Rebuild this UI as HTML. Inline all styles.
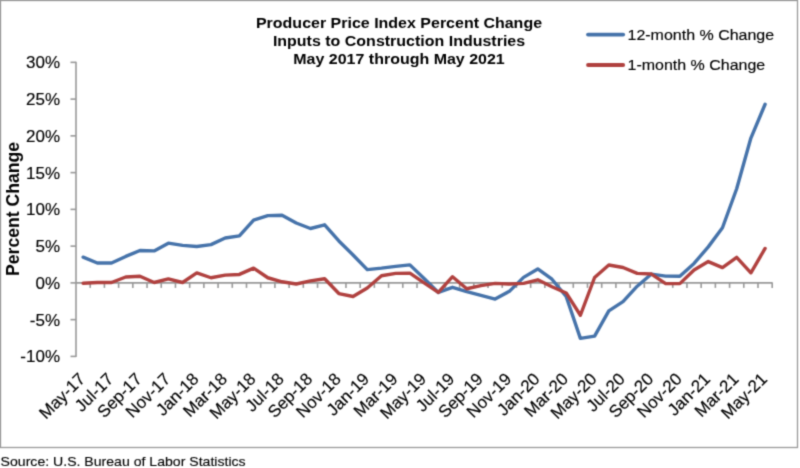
<!DOCTYPE html>
<html><head><meta charset="utf-8"><title>PPI Inputs to Construction</title>
<style>html,body{margin:0;padding:0;background:#fff;width:800px;height:468px;overflow:hidden}svg{display:block}</style>
</head><body>
<svg width="800" height="468" viewBox="0 0 800 468">
<defs><filter id="bl" color-interpolation-filters="sRGB" x="0" y="0" width="800" height="468" filterUnits="userSpaceOnUse"><feConvolveMatrix order="3" kernelMatrix="1 4 1 4 16 4 1 4 1" divisor="36" edgeMode="duplicate"/></filter></defs>
<g filter="url(#bl)">
<rect x="0" y="0" width="800" height="468" fill="#fff"/>
<rect x="0.5" y="0.5" width="797" height="447" fill="none" stroke="#9a9a9a" stroke-width="1.3"/>
<g font-family="'Liberation Sans', sans-serif" font-weight="bold" font-size="16" fill="#000" text-anchor="middle">
<text transform="translate(399,28) scale(1,0.93)">Producer Price Index Percent Change</text>
<text transform="translate(399,46.2) scale(1,0.93)">Inputs to Construction Industries</text>
<text transform="translate(399,64.4) scale(1,0.93)">May 2017 through May 2021</text>
</g>
<line x1="588" y1="34.6" x2="623.2" y2="34.6" stroke="#4673aa" stroke-width="3.8" stroke-linecap="round"/>
<line x1="588" y1="65" x2="623.2" y2="65" stroke="#b0413f" stroke-width="3.8" stroke-linecap="round"/>
<g font-family="'Liberation Sans', sans-serif" font-size="16" fill="#000" stroke="#000" stroke-width="0.15">
<text transform="translate(627.5,39.6) scale(1,0.93)">12-month % Change</text>
<text transform="translate(627.5,69.8) scale(1,0.93)">1-month % Change</text>
</g>
<text transform="translate(19.4,209) rotate(-90)" font-family="'Liberation Sans', sans-serif" font-weight="bold" font-size="17.6" fill="#000" text-anchor="middle">Percent Change</text>
<g font-family="'Liberation Sans', sans-serif" font-size="17" fill="#000" stroke="#000" stroke-width="0.15" text-anchor="end">
<text x="60" y="362.40">-10%</text>
<text x="60" y="325.64">-5%</text>
<text x="60" y="288.89">0%</text>
<text x="60" y="252.13">5%</text>
<text x="60" y="215.37">10%</text>
<text x="60" y="178.62">15%</text>
<text x="60" y="141.86">20%</text>
<text x="60" y="105.11">25%</text>
<text x="60" y="68.35">30%</text>
</g>
<g stroke="#999999" stroke-width="1.6" fill="none">
<line x1="76" y1="61.85" x2="76" y2="356.90"/>
<line x1="70.5" y1="356.40" x2="76" y2="356.40"/>
<line x1="70.5" y1="319.64" x2="76" y2="319.64"/>
<line x1="70.5" y1="282.89" x2="76" y2="282.89"/>
<line x1="70.5" y1="246.13" x2="76" y2="246.13"/>
<line x1="70.5" y1="209.37" x2="76" y2="209.37"/>
<line x1="70.5" y1="172.62" x2="76" y2="172.62"/>
<line x1="70.5" y1="135.86" x2="76" y2="135.86"/>
<line x1="70.5" y1="99.11" x2="76" y2="99.11"/>
<line x1="70.5" y1="62.35" x2="76" y2="62.35"/>
<line x1="76" y1="282.89" x2="772.7" y2="282.89"/>
<line x1="90.21" y1="282.89" x2="90.21" y2="287.89"/>
<line x1="104.42" y1="282.89" x2="104.42" y2="287.89"/>
<line x1="118.62" y1="282.89" x2="118.62" y2="287.89"/>
<line x1="132.83" y1="282.89" x2="132.83" y2="287.89"/>
<line x1="147.04" y1="282.89" x2="147.04" y2="287.89"/>
<line x1="161.25" y1="282.89" x2="161.25" y2="287.89"/>
<line x1="175.46" y1="282.89" x2="175.46" y2="287.89"/>
<line x1="189.67" y1="282.89" x2="189.67" y2="287.89"/>
<line x1="203.87" y1="282.89" x2="203.87" y2="287.89"/>
<line x1="218.08" y1="282.89" x2="218.08" y2="287.89"/>
<line x1="232.29" y1="282.89" x2="232.29" y2="287.89"/>
<line x1="246.50" y1="282.89" x2="246.50" y2="287.89"/>
<line x1="260.71" y1="282.89" x2="260.71" y2="287.89"/>
<line x1="274.91" y1="282.89" x2="274.91" y2="287.89"/>
<line x1="289.12" y1="282.89" x2="289.12" y2="287.89"/>
<line x1="303.33" y1="282.89" x2="303.33" y2="287.89"/>
<line x1="317.54" y1="282.89" x2="317.54" y2="287.89"/>
<line x1="331.75" y1="282.89" x2="331.75" y2="287.89"/>
<line x1="345.96" y1="282.89" x2="345.96" y2="287.89"/>
<line x1="360.16" y1="282.89" x2="360.16" y2="287.89"/>
<line x1="374.37" y1="282.89" x2="374.37" y2="287.89"/>
<line x1="388.58" y1="282.89" x2="388.58" y2="287.89"/>
<line x1="402.79" y1="282.89" x2="402.79" y2="287.89"/>
<line x1="417.00" y1="282.89" x2="417.00" y2="287.89"/>
<line x1="431.20" y1="282.89" x2="431.20" y2="287.89"/>
<line x1="445.41" y1="282.89" x2="445.41" y2="287.89"/>
<line x1="459.62" y1="282.89" x2="459.62" y2="287.89"/>
<line x1="473.83" y1="282.89" x2="473.83" y2="287.89"/>
<line x1="488.04" y1="282.89" x2="488.04" y2="287.89"/>
<line x1="502.24" y1="282.89" x2="502.24" y2="287.89"/>
<line x1="516.45" y1="282.89" x2="516.45" y2="287.89"/>
<line x1="530.66" y1="282.89" x2="530.66" y2="287.89"/>
<line x1="544.87" y1="282.89" x2="544.87" y2="287.89"/>
<line x1="559.08" y1="282.89" x2="559.08" y2="287.89"/>
<line x1="573.29" y1="282.89" x2="573.29" y2="287.89"/>
<line x1="587.49" y1="282.89" x2="587.49" y2="287.89"/>
<line x1="601.70" y1="282.89" x2="601.70" y2="287.89"/>
<line x1="615.91" y1="282.89" x2="615.91" y2="287.89"/>
<line x1="630.12" y1="282.89" x2="630.12" y2="287.89"/>
<line x1="644.33" y1="282.89" x2="644.33" y2="287.89"/>
<line x1="658.53" y1="282.89" x2="658.53" y2="287.89"/>
<line x1="672.74" y1="282.89" x2="672.74" y2="287.89"/>
<line x1="686.95" y1="282.89" x2="686.95" y2="287.89"/>
<line x1="701.16" y1="282.89" x2="701.16" y2="287.89"/>
<line x1="715.37" y1="282.89" x2="715.37" y2="287.89"/>
<line x1="729.58" y1="282.89" x2="729.58" y2="287.89"/>
<line x1="743.78" y1="282.89" x2="743.78" y2="287.89"/>
<line x1="757.99" y1="282.89" x2="757.99" y2="287.89"/>
<line x1="772.20" y1="282.89" x2="772.20" y2="287.89"/>
</g>
<g font-family="'Liberation Sans', sans-serif" font-size="17" fill="#000" stroke="#000" stroke-width="0.15" text-anchor="end">
<text transform="translate(86.10,380.00) rotate(-45)" x="0" y="0">May-17</text>
<text transform="translate(114.52,380.00) rotate(-45)" x="0" y="0">Jul-17</text>
<text transform="translate(142.94,380.00) rotate(-45)" x="0" y="0">Sep-17</text>
<text transform="translate(171.35,380.00) rotate(-45)" x="0" y="0">Nov-17</text>
<text transform="translate(199.77,380.00) rotate(-45)" x="0" y="0">Jan-18</text>
<text transform="translate(228.19,380.00) rotate(-45)" x="0" y="0">Mar-18</text>
<text transform="translate(256.60,380.00) rotate(-45)" x="0" y="0">May-18</text>
<text transform="translate(285.02,380.00) rotate(-45)" x="0" y="0">Jul-18</text>
<text transform="translate(313.43,380.00) rotate(-45)" x="0" y="0">Sep-18</text>
<text transform="translate(341.85,380.00) rotate(-45)" x="0" y="0">Nov-18</text>
<text transform="translate(370.27,380.00) rotate(-45)" x="0" y="0">Jan-19</text>
<text transform="translate(398.68,380.00) rotate(-45)" x="0" y="0">Mar-19</text>
<text transform="translate(427.10,380.00) rotate(-45)" x="0" y="0">May-19</text>
<text transform="translate(455.52,380.00) rotate(-45)" x="0" y="0">Jul-19</text>
<text transform="translate(483.93,380.00) rotate(-45)" x="0" y="0">Sep-19</text>
<text transform="translate(512.35,380.00) rotate(-45)" x="0" y="0">Nov-19</text>
<text transform="translate(540.77,380.00) rotate(-45)" x="0" y="0">Jan-20</text>
<text transform="translate(569.18,380.00) rotate(-45)" x="0" y="0">Mar-20</text>
<text transform="translate(597.60,380.00) rotate(-45)" x="0" y="0">May-20</text>
<text transform="translate(626.01,380.00) rotate(-45)" x="0" y="0">Jul-20</text>
<text transform="translate(654.43,380.00) rotate(-45)" x="0" y="0">Sep-20</text>
<text transform="translate(682.85,380.00) rotate(-45)" x="0" y="0">Nov-20</text>
<text transform="translate(711.26,380.00) rotate(-45)" x="0" y="0">Jan-21</text>
<text transform="translate(739.68,380.00) rotate(-45)" x="0" y="0">Mar-21</text>
<text transform="translate(768.10,380.00) rotate(-45)" x="0" y="0">May-21</text>
</g>
<polyline points="83.10,257.16 97.31,263.04 111.52,263.04 125.73,256.42 139.94,250.54 154.14,250.91 168.35,243.19 182.56,245.40 196.77,246.50 210.98,244.66 225.19,238.04 239.39,235.84 253.60,220.03 267.81,215.62 282.02,215.26 296.23,222.97 310.43,228.49 324.64,224.81 338.85,240.99 353.06,254.95 367.27,269.66 381.48,268.18 395.68,266.35 409.89,264.88 424.10,278.48 438.31,292.44 452.52,287.30 466.72,291.71 480.93,295.38 495.14,299.06 509.35,291.34 523.56,277.37 537.77,268.92 551.97,279.21 566.18,296.49 580.39,338.39 594.60,336.18 608.81,310.82 623.01,301.63 637.22,286.20 651.43,274.07 665.64,276.12 679.85,276.27 694.06,263.41 708.26,246.87 722.47,227.75 736.68,188.79 750.89,138.07 765.10,104.25" fill="none" stroke="#4673aa" stroke-width="3.4" stroke-linejoin="round" stroke-linecap="round"/>
<polyline points="83.10,283.26 97.31,282.52 111.52,282.52 125.73,277.01 139.94,276.27 154.14,282.52 168.35,278.84 182.56,282.52 196.77,272.96 210.98,277.74 225.19,275.17 239.39,274.43 253.60,268.18 267.81,277.74 282.02,281.78 296.23,283.99 310.43,280.90 324.64,278.70 338.85,293.55 353.06,296.49 367.27,288.03 381.48,275.76 395.68,273.33 409.89,273.11 424.10,282.89 438.31,292.44 452.52,276.71 466.72,288.77 480.93,285.61 495.14,283.33 509.35,284.06 523.56,283.33 537.77,279.80 551.97,286.71 566.18,292.96 580.39,315.23 594.60,277.52 608.81,265.02 623.01,267.45 637.22,273.33 651.43,274.07 665.64,283.62 679.85,283.62 694.06,270.02 708.26,261.57 722.47,267.60 736.68,257.38 750.89,272.82 765.10,248.41" fill="none" stroke="#b0413f" stroke-width="3.4" stroke-linejoin="round" stroke-linecap="round"/>
<text transform="translate(0.6,465.5) scale(1,0.92)" font-family="'Liberation Sans', sans-serif" font-size="14.1" fill="#000" stroke="#000" stroke-width="0.15">Source: U.S. Bureau of Labor Statistics</text>
</g></svg>
</body></html>
